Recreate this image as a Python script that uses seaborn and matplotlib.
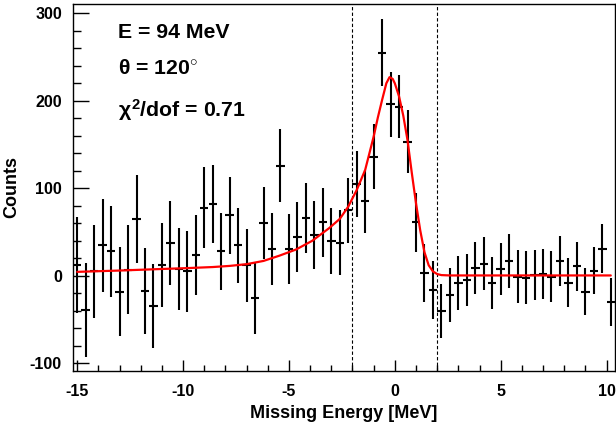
import numpy as np
import pandas as pd
import matplotlib
matplotlib.use("Agg")
import matplotlib.pyplot as plt
import seaborn as sns
from matplotlib.ticker import MultipleLocator

# ---- data ----
missing_energy = [-15.0, -14.6, -14.2, -13.8, -13.4, -13.0, -12.6, -12.2, -11.8, -11.4,
                  -11.0, -10.6, -10.2, -9.8, -9.4, -9.0, -8.6, -8.2, -7.8, -7.4,
                  -7.0, -6.6, -6.2, -5.8, -5.4, -5.0, -4.6, -4.2, -3.8, -3.4,
                  -3.0, -2.6, -2.2, -1.8, -1.4, -1.0, -0.6, -0.2, 0.2, 0.6,
                  1.0, 1.4, 1.8, 2.2, 2.6, 3.0, 3.4, 3.8, 4.2, 4.6,
                  5.0, 5.4, 5.8, 6.2, 6.6, 7.0, 7.4, 7.8, 8.2, 8.6,
                  9.0, 9.4, 9.8, 10.2]
counts = [12, -39, 5, 35, 28, -18, 7, 65, -17, -34,
          12, 37, 8, 5, 24, 78, 82, 28, 69, 35,
          12, -25, 60, 31, 126, 31, 44, 66, 47, 61,
          40, 38, 75, 105, 85, 136, 255, 196, 193, 153,
          61, 3, -16, -40, -22, -8, -5, 9, 14, -8,
          8, 17, -1, -2, 1, 2, -1, 17, -8, 11,
          -18, 6, 31, -30]
count_err = [55, 54, 53, 53, 52, 51, 51, 50, 49, 48,
             48, 48, 47, 46, 46, 46, 45, 44, 44, 43,
             42, 41, 41, 41, 42, 40, 40, 40, 39, 39,
             38, 37, 37, 38, 36, 37, 38, 37, 36, 36,
             34, 33, 33, 31, 31, 31, 30, 30, 30, 30,
             30, 31, 30, 30, 29, 29, 29, 29, 28, 28,
             27, 27, 28, 27]
bin_half_width = 0.2

fit_x = [-15.0, -13.0, -11.0, -10.0, -8.6, -7.8, -7.0, -6.2, -5.45, -4.67,
         -3.9, -3.1, -2.6, -2.2, -1.8, -1.4, -1.0, -0.8, -0.6, -0.4,
         -0.25, -0.1, 0.0, 0.2, 0.4, 0.6, 0.8, 1.0, 1.2, 1.4,
         1.6, 1.8, 2.0, 2.2, 2.6, 10.2]
fit_y = [4.5, 6.0, 7.8, 8.6, 10.0, 11.3, 13.3, 17.0, 23.0, 30.0,
         40.0, 54.5, 65.0, 79.0, 98.0, 121.0, 159.0, 181.0, 201.0, 220.0,
         227.0, 225.0, 220.0, 205.0, 183.0, 155.0, 118.0, 83.0, 52.0, 27.0,
         12.0, 5.0, 2.0, 0.8, 0.4, 0.4]

cut_lines = [-2.0, 2.0]
annotations = ["E = 94 MeV", r"$\theta$ = 120$^{\circ}$", r"$\chi^{2}$/dof = 0.71"]
x_label = "Missing Energy [MeV]"
y_label = "Counts"

data = pd.DataFrame({"E": missing_energy, "N": counts, "err": count_err})
fit = pd.DataFrame({"E": fit_x, "N": fit_y})

# ---- style ----
sns.set_theme(style="ticks")
plt.rcParams["font.family"] = ["Liberation Sans", "DejaVu Sans"]
plt.rcParams["font.weight"] = "bold"
plt.rcParams["axes.unicode_minus"] = False
plt.rcParams["text.color"] = "black"
plt.rcParams["axes.labelcolor"] = "black"
plt.rcParams["xtick.color"] = "black"
plt.rcParams["ytick.color"] = "black"
plt.rcParams["mathtext.fontset"] = "custom"
plt.rcParams["mathtext.rm"] = "Liberation Sans:bold"
plt.rcParams["mathtext.it"] = "Liberation Sans:bold"
plt.rcParams["mathtext.bf"] = "Liberation Sans:bold"

fig = plt.figure(figsize=(6.16, 4.29), dpi=100)
ax = fig.add_axes([73 / 616, 1 - 371 / 429, 542 / 616, 367 / 429])

ax.errorbar(data["E"], data["N"], yerr=data["err"], xerr=bin_half_width,
            fmt="none", ecolor="black", elinewidth=1.5, capsize=0, zorder=3)
sns.lineplot(data=fit, x="E", y="N", ax=ax, color="#ff0000", linewidth=1.6,
             zorder=4, legend=False)

for xc in cut_lines:
    ax.axvline(xc, color="black", linestyle=(0, (3, 2)), linewidth=0.8, zorder=2)

ax.set_xlim(-15.2, 10.4)
ax.set_ylim(-108.8, 310.6)

ax.xaxis.set_major_locator(MultipleLocator(5))
ax.xaxis.set_minor_locator(MultipleLocator(1))
ax.yaxis.set_major_locator(MultipleLocator(100))
ax.yaxis.set_minor_locator(MultipleLocator(20))

ax.tick_params(axis="x", which="major", direction="in", length=8, width=1,
               labelsize=11.5, pad=9, top=False, colors="black")
ax.tick_params(axis="x", which="minor", direction="in", length=4, width=1, top=False)
ax.tick_params(axis="y", which="major", direction="in", length=11.5, width=1,
               labelsize=11.5, pad=8, right=False, colors="black")
ax.tick_params(axis="y", which="minor", direction="in", length=5.8, width=1, right=False)
for lab in ax.get_xticklabels() + ax.get_yticklabels():
    lab.set_fontweight("bold")

for s in ax.spines.values():
    s.set_linewidth(1.0)
    s.set_color("black")

ax.set_xlabel(x_label, fontsize=13, fontweight="bold", labelpad=5, color="black")
ax.set_ylabel(y_label, fontsize=13, fontweight="bold", labelpad=7, color="black")

for txt, base in zip(annotations, [38, 74, 117]):
    ax.text(118, 429 - base, txt, transform=None, fontsize=15.3, fontweight="bold",
            ha="left", va="baseline", color="black")

fig.savefig("out.png", dpi=100)
